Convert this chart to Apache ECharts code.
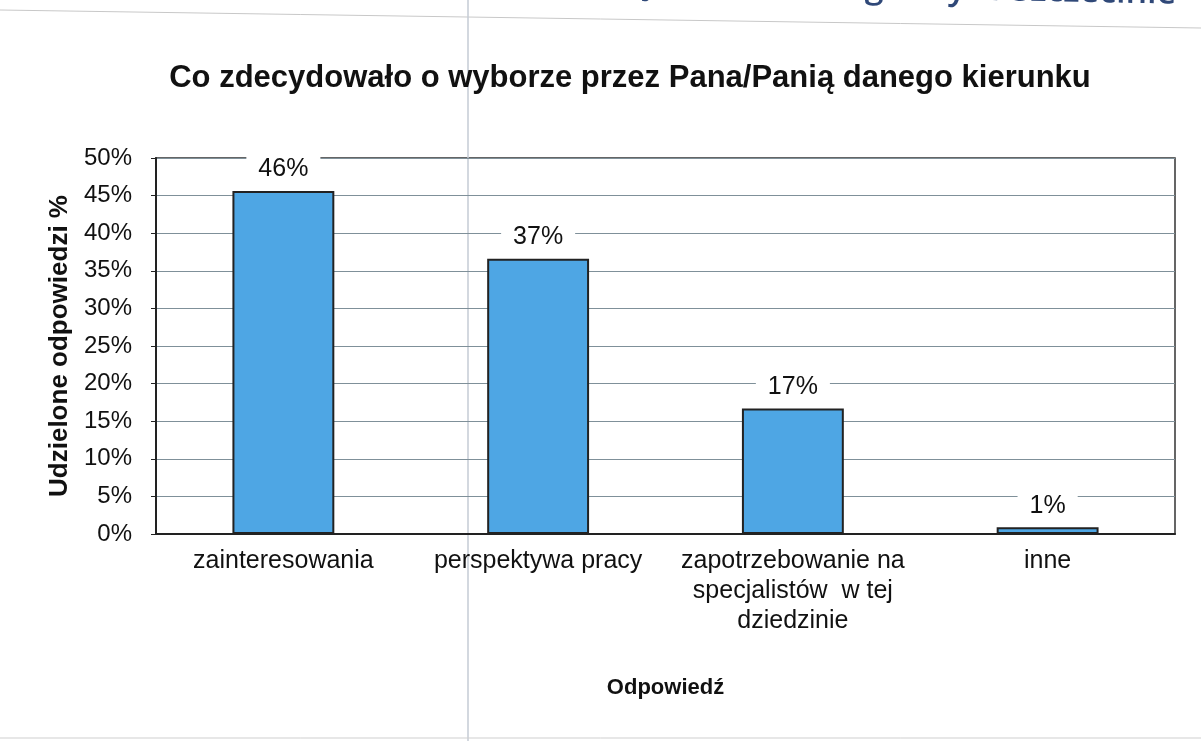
<!DOCTYPE html>
<html>
<head>
<meta charset="utf-8">
<script src="https://cdn.jsdelivr.net/npm/echarts@6/dist/echarts.min.js"></script>
<style>
  html, body { margin: 0; padding: 0; background: #fff; }
  #chart { width: 1201px; height: 741px; }
</style>
</head>
<body>
<div id="chart"></div>
<script>
// dane
const categories = ['zainteresowania', 'perspektywa pracy', 'zapotrzebowanie na\nspecjalistów  w tej\ndziedzinie', 'inne'];
const values = [45.6, 36.6, 16.7, 0.9];
const labels = ['46%', '37%', '17%', '1%'];

const chart = echarts.init(document.getElementById('chart'));
const font = '"Liberation Sans", Arial, sans-serif';

let option = {
    animation: false,
    textStyle: { fontFamily: font },
    title: {
        text: 'Co zdecydowało o wyborze przez Pana/Panią danego kierunku',
        left: 625,
        top: 58,
        textAlign: 'center',
        textStyle: { fontFamily: font, fontSize: 31, fontWeight: 'bold', color: '#111' }
    },
    graphic: [
        // fragment nagłówka strony (ucięty)
        {
            type: 'text', x: 1176, y: 11, rotation: -0.02, silent: true,
            style: {
                text: 'Zachodniopomorski Uniwersytet Technologiczny w Szczecinie',
                font: '600 34px "Open Sans", sans-serif', fill: '#2f4878',
                textAlign: 'right', textVerticalAlign: 'bottom'
            }
        },
        { type: 'line', silent: true, shape: { x1: 0, y1: 10, x2: 1201, y2: 28 }, style: { stroke: '#c8c8c8', lineWidth: 1 } },
        { type: 'line', silent: true, shape: { x1: 468, y1: 0, x2: 468, y2: 741 }, style: { stroke: '#c4cbd4', lineWidth: 1.5 } },
        { type: 'line', silent: true, shape: { x1: 0, y1: 738, x2: 1201, y2: 738 }, style: { stroke: '#cfcfcf', lineWidth: 1 } }
    ],
    grid: {
        left: 156, right: 26, top: 158, bottom: 207,
        show: true, borderColor: '#333', borderWidth: 1.5
    },
    xAxis: {
        type: 'category',
        data: categories,
        name: 'Odpowiedź',
        nameLocation: 'middle',
        nameGap: 143,
        nameTextStyle: { fontFamily: font, fontSize: 22, fontWeight: 'bold', color: '#111' },
        axisLine: { lineStyle: { color: '#222', width: 2 } },
        axisTick: { show: false },
        axisLabel: {
            interval: 0, margin: 12, fontSize: 25, color: '#111', lineHeight: 30, fontFamily: font
        }
    },
    yAxis: {
        type: 'value',
        min: 0, max: 50, interval: 5,
        name: 'Udzielone odpowiedzi %',
        nameLocation: 'middle',
        nameGap: 83,
        nameTextStyle: { fontFamily: font, fontSize: 26, fontWeight: 'bold', color: '#111' },
        axisLine: { show: true, lineStyle: { color: '#222', width: 2 } },
        axisTick: { show: true, length: 5, lineStyle: { color: '#222' } },
        axisLabel: { formatter: '{value}%', fontSize: 24, color: '#111', margin: 24, fontFamily: font },
        splitLine: { lineStyle: { color: '#7f9099', width: 1.2 } }
    },
    series: [{
        type: 'bar',
        data: values,
        barWidth: '40%',
        itemStyle: { color: '#4ea6e4', borderColor: '#222', borderWidth: 2 },
        label: {
            show: true,
            position: 'top',
            distance: 7,
            formatter: function (p) { return labels[p.dataIndex]; },
            fontSize: 25, color: '#111', fontFamily: font,
            backgroundColor: '#fff', padding: [2, 12]
        }
    }]
};

chart.setOption(option);
window.addEventListener('resize', function () { chart.resize(); });
</script>
</body>
</html>
